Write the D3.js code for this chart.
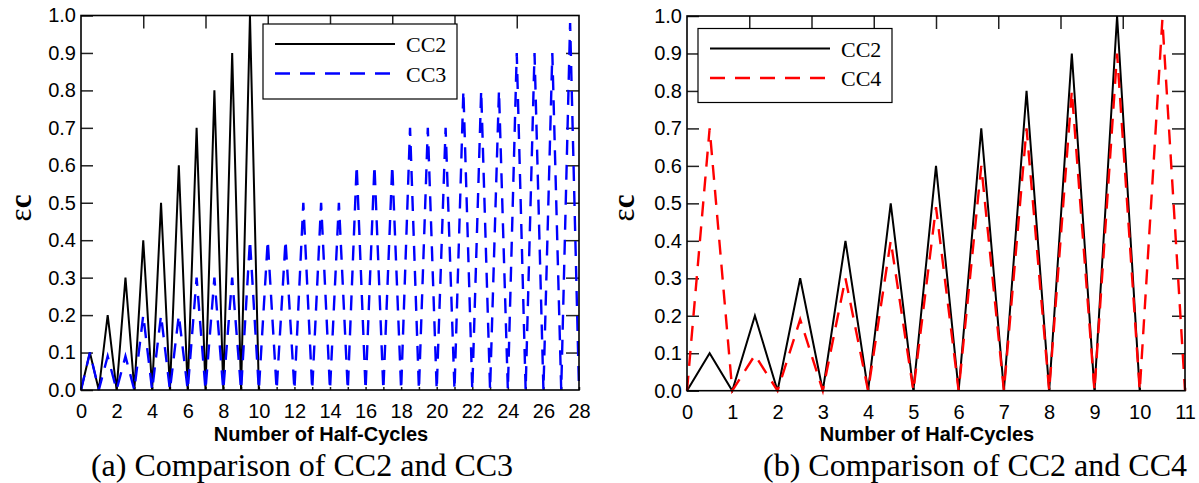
<!DOCTYPE html>
<html>
<head>
<meta charset="utf-8">
<script src="https://cdn.jsdelivr.net/npm/d3@7"></script>
<style>
  body { margin: 0; background: #fff; }
  svg { display: block; }
  .tick line { stroke: #222; stroke-width: 1.5; }
  .domain { display: none; }
</style>
</head>
<body>
<div id="chart"></div>
<script>
// chart (a): CC2 vs CC3
var cc2X = [0, 0.5, 1, 1.5, 2, 2.5, 3, 3.5, 4, 4.5, 5, 5.5, 6, 6.5, 7, 7.5, 8, 8.5, 9, 9.5, 10];
var cc2Y = [0, 0.1, 0, 0.2, 0, 0.3, 0, 0.4, 0, 0.5, 0, 0.6, 0, 0.7, 0, 0.8, 0, 0.9, 0, 1.0, 0];

var cc3X = [0, 0.5, 1, 1.5, 2, 2.5, 3, 3.5, 4, 4.5, 5, 5.5, 6, 6.5, 7, 7.5, 8, 8.5, 9, 9.5,
            10, 10.5, 11, 11.5, 12, 12.5, 13, 13.5, 14, 14.5, 15, 15.5, 16, 16.5, 17, 17.5, 18, 18.5, 19, 19.5,
            20, 20.5, 21, 21.5, 22, 22.5, 23, 23.5, 24, 24.5, 25, 25.5, 26, 26.5, 27, 27.5, 28];
var cc3Y = [0, 0.1, 0, 0.09, 0, 0.09, 0, 0.2, 0, 0.2, 0, 0.2, 0, 0.3, 0, 0.3, 0, 0.3, 0, 0.4,
            0, 0.4, 0, 0.4, 0, 0.5, 0, 0.5, 0, 0.5, 0, 0.6, 0, 0.6, 0, 0.6, 0, 0.7, 0, 0.7,
            0, 0.7, 0, 0.8, 0, 0.8, 0, 0.8, 0, 0.9, 0, 0.9, 0, 0.9, 0, 0.98, 0];

// chart (b): CC2 vs CC4
var cc4X = [0, 0.5, 1, 1.5, 2, 2.5, 3, 3.5, 4, 4.5, 5, 5.5, 6, 6.5, 7, 7.5, 8, 8.5, 9, 9.5, 10, 10.5, 11];
var cc4Y = [0, 0.7, 0, 0.095, 0, 0.19, 0, 0.3, 0, 0.4, 0, 0.49, 0, 0.6, 0, 0.7, 0, 0.8, 0, 0.9, 0, 0.99, 0];

var yTicks = [0, 0.1, 0.2, 0.3, 0.4, 0.5, 0.6, 0.7, 0.8, 0.9, 1.0];
var xTicksA = [0, 2, 4, 6, 8, 10, 12, 14, 16, 18, 20, 22, 24, 26, 28];
var xTicksB = [0, 1, 2, 3, 4, 5, 6, 7, 8, 9, 10, 11];

var width = 1199, height = 483;
var svg = d3.select('#chart').append('svg')
    .attr('width', width)
    .attr('height', height);

function styleTicks(sel) {
  sel.selectAll('.tick text')
    .style('font-family', '"Liberation Sans", Arial, sans-serif')
    .style('font-size', '20px')
    .style('fill', '#000');
}

function drawChart(c) {
  var x = d3.scaleLinear().domain([0, c.xMax]).range([c.left, c.right]);
  var y = d3.scaleLinear().domain([0, 1]).range([c.bottom, c.top]);
  var g = svg.append('g');

  // small ticks at each whole half-cycle on the bottom
  g.append('g')
    .attr('transform', 'translate(0,' + c.bottom + ')')
    .call(d3.axisBottom(x).tickValues(d3.range(0, c.xMax + 1, 1)).tickSize(-3).tickFormat(''));

  g.append('g')
    .attr('transform', 'translate(0,' + c.bottom + ')')
    .call(d3.axisBottom(x).tickValues(c.xTicks).tickSize(0).tickPadding(14).tickFormat(d3.format('d')))
    .call(styleTicks);

  g.append('g')
    .attr('transform', 'translate(' + c.left + ',0)')
    .call(d3.axisLeft(y).tickValues(yTicks).tickSize(-12).tickPadding(5).tickFormat(d3.format('.1f')))
    .call(styleTicks);

  g.append('g')
    .attr('transform', 'translate(' + c.right + ',0)')
    .call(d3.axisRight(y).tickValues(yTicks.slice(1, -1)).tickSize(-13).tickFormat(''));

  g.append('g')
    .attr('transform', 'translate(0,' + c.top + ')')
    .call(d3.axisTop(x).tickValues(d3.range(1, 8).map(function (i) { return c.xMax * i / 8; }))
      .tickSize(-13).tickFormat(''));

  var line = d3.line()
    .x(function (d) { return x(d[0]); })
    .y(function (d) { return y(d[1]); });

  c.series.forEach(function (s) {
    g.append('path')
      .datum(d3.zip(s.x, s.y))
      .attr('d', line)
      .attr('fill', 'none')
      .attr('stroke', s.color)
      .attr('stroke-width', s.width)
      .attr('stroke-dasharray', s.dash)
      .attr('stroke-linejoin', 'miter');
  });

  // frame
  g.append('rect')
    .attr('x', c.left).attr('y', c.top)
    .attr('width', c.right - c.left).attr('height', c.bottom - c.top)
    .attr('fill', 'none').attr('stroke', '#000').attr('stroke-width', 1.6);

  // legend
  var lg = g.append('g');
  lg.append('rect')
    .attr('x', c.legend[0]).attr('y', c.legend[1])
    .attr('width', c.legend[2]).attr('height', c.legend[3])
    .attr('fill', '#fff').attr('stroke', '#000').attr('stroke-width', 1.2);
  c.series.forEach(function (s, i) {
    var ly = c.legend[1] + 20 + i * 29.5;
    lg.append('line')
      .attr('x1', c.legend[0] + 12).attr('x2', c.legend[0] + 132)
      .attr('y1', ly).attr('y2', ly)
      .attr('stroke', s.color).attr('stroke-width', s.width)
      .attr('stroke-dasharray', s.dash);
    lg.append('text')
      .attr('x', c.legend[0] + 143).attr('y', ly + 8)
      .style('font-family', '"Liberation Serif", "Times New Roman", serif')
      .style('font-size', '22px')
      .text(s.name);
  });

  // y label
  var yl = g.append('text')
    .attr('transform', 'translate(' + c.yLabelX + ',' + 208 + ') rotate(-90)')
    .attr('text-anchor', 'middle')
    .style('font-family', '"Liberation Serif", "Times New Roman", serif')
    .style('font-size', '31px');
  yl.append('tspan').text('ε');
  yl.append('tspan').style('font-weight', 'bold').text('c');

  // x title
  g.append('text')
    .attr('x', c.titleX).attr('y', 441)
    .attr('text-anchor', 'middle')
    .style('font-family', '"Liberation Sans", Arial, sans-serif')
    .style('font-size', '20px')
    .style('font-weight', 'bold')
    .text('Number of Half-Cycles');

  // caption
  g.append('text')
    .attr('x', c.captionX).attr('y', 476)
    .attr('text-anchor', 'middle')
    .style('font-family', '"Liberation Serif", "Times New Roman", serif')
    .style('font-size', '32px')
    .text(c.caption);
}

drawChart({
  xMax: 28, left: 81, right: 579, top: 15.5, bottom: 390,
  xTicks: xTicksA,
  legend: [263, 24, 194, 75],
  yLabelX: 31, titleX: 321, captionX: 302,
  caption: '(a) Comparison of CC2 and CC3',
  series: [
    { name: 'CC2', x: cc2X, y: cc2Y, color: '#000', width: 2, dash: null },
    { name: 'CC3', x: cc3X, y: cc3Y, color: '#0000ff', width: 2.4, dash: '15,10' }
  ]
});

drawChart({
  xMax: 11, left: 687, right: 1185, top: 16, bottom: 390.7,
  xTicks: xTicksB,
  legend: [698, 28.5, 194, 74],
  yLabelX: 634, titleX: 927, captionX: 975,
  caption: '(b) Comparison of CC2 and CC4',
  series: [
    { name: 'CC2', x: cc2X, y: cc2Y, color: '#000', width: 2, dash: null },
    { name: 'CC4', x: cc4X, y: cc4Y, color: '#ff0000', width: 2.4, dash: '15,10' }
  ]
});
</script>
</body>
</html>
